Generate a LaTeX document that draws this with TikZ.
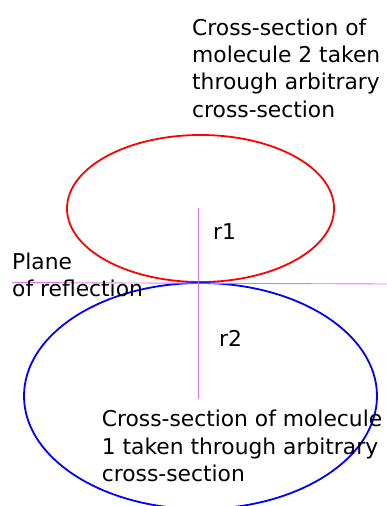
\documentclass[tikz,border=0pt]{standalone}
\usepackage{fontspec}
\setmainfont{DejaVu Sans}
\usetikzlibrary{shapes.geometric}
\definecolor{planecol}{RGB}{222,120,222}
\tikzset{
  lbl/.style={inner sep=0pt, anchor=base west, align=left, font=\fontsize{21.8}{27.4}\selectfont},
  mol/.style={ellipse, draw, line width=1.8pt, inner sep=0pt},
  guide/.style={draw=planecol, line width=0.9pt}
}
\begin{document}
\begin{tikzpicture}[x=1pt,y=-1pt]
\useasboundingbox (0,0) rectangle (387,506);
\clip (0,0) rectangle (387,506);
\node[mol, draw=red, minimum width=267pt, minimum height=147pt] (m2) at (200.5,208.5) {};
\node[mol, draw=blue, minimum width=353pt, minimum height=226pt] (m1) at (200.5,396) {};
\coordinate (vt) at (198.5,207.5);
\coordinate (vb) at (198.5,398.5);
\coordinate (hl) at (12,282.5);
\coordinate (hr) at (387,284);
\draw[guide] (vt) -- (vb);
\draw[guide] (hl) -- (hr);
% base anchor = baseline of last line
\node[lbl] (t2) at (192,117.2) {Cross-section of\\molecule 2 taken\\through arbitrary\\cross-section};
\node[lbl] (pl) at (12,296.7) {Plane\\of reflection};
\node[lbl] (r1) at (213,239) {r1};
\node[lbl] (r2) at (219,346.7) {r2};
\node[lbl] (t1) at (101.7,481.5) {Cross-section of molecule\\1 taken through arbitrary\\cross-section};
\end{tikzpicture}
\end{document}
